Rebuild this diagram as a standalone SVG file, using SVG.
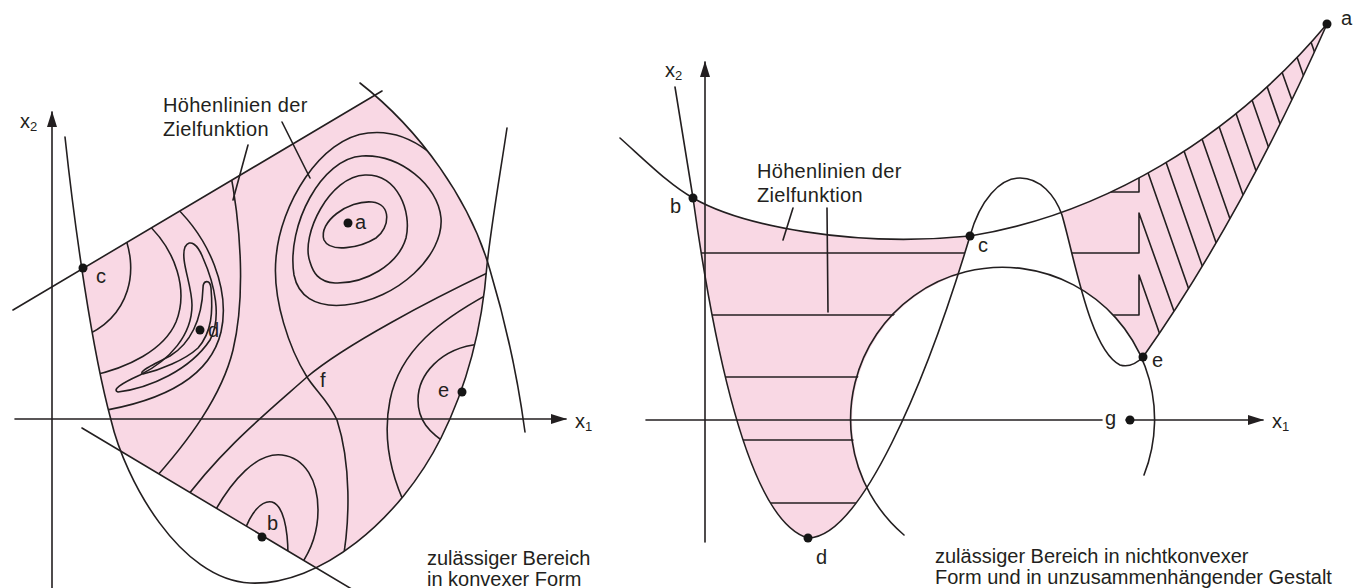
<svg xmlns="http://www.w3.org/2000/svg" width="1357" height="588" viewBox="0 0 1357 588">
<style>
.ln{fill:none;stroke:#231f20;stroke-width:1.6;stroke-linecap:round;stroke-linejoin:round}
.pk{fill:#f9d8e4}
.dot{fill:#151515}
text{font-family:"Liberation Sans",Arial,sans-serif;font-size:20px;fill:#231f20}
.sub{font-size:13px}
.lbl{letter-spacing:0.3px}
</style>
<defs>
<marker id="ah" markerUnits="userSpaceOnUse" markerWidth="16" markerHeight="10" refX="15" refY="5" orient="auto"><path d="M0,0 L16,5 L0,10 Z" fill="#231f20"/></marker>
<clipPath id="cBandL"><path d="M0,317.7 L600,-38.4 L600,737.2 L0,379 Z"/></clipPath>
<clipPath id="cArcL"><path d="M360,83 C420,130 470,200 490,270 C505,320 518,380 525,432 L540,600 L0,600 L0,0 L330,0 Z"/></clipPath>
<clipPath id="cUL"><path d="M65,137 C75,230 92,350 111,420 C125,480 180,580 250,583 C320,586 400,520 441,438 C465,390 482,330 487,265 C492,220 500,175 507,128 L512,0 L60,0 Z"/></clipPath>
<clipPath id="cBelowA"><path d="M600,120 L620,138 C650,165 670,185 693,198 C740,225 850,248 970,236 C1100,215 1230,140 1327,24 L1357,-10 L1357,588 L600,588 Z"/></clipPath>
<clipPath id="cOutC"><path clip-rule="evenodd" d="M0,0 H1357 V588 H0 Z M1156,420 A152,152 0 1 0 852,420 A152,152 0 1 0 1156,420 Z"/></clipPath>
<clipPath id="cInW"><path d="M675,87 L693,198 C710,320 745,520 808,538 C860,538 925,386 970,236 C980,200 1000,178 1020,178 L1020,0 L675,0 Z"/></clipPath>
<clipPath id="cRR"><path d="M1020,178 C1040,178 1055,195 1062,215 C1075,260 1090,350 1120,365 C1130,368 1138,362 1143,357 Q1240,220 1327,24 L1327,0 L1020,0 Z"/></clipPath>
</defs>

<g id="left-diagram">
  <g id="left-region" clip-path="url(#cBandL)">
    <g clip-path="url(#cArcL)">
      <g clip-path="url(#cUL)">
        <rect class="pk" x="0" y="0" width="600" height="600"/>
        <g id="left-contours" class="ln">
          <path d="M122,230 C140,268 132,318 80,338"/>
          <path d="M143,220 C178,250 188,292 176,322 C164,350 128,368 90,376"/>
          <path d="M168,200 C212,238 230,292 221,332 C210,378 160,402 95,412"/>
          <path d="M185,247 C190,238 198,245 203,258 C215,285 222,318 210,340 C190,370 150,388 118,392 C112,390 120,384 140,375 C170,360 192,335 192,305 C192,285 180,260 185,247 Z"/>
          <path d="M203,288 C203,280 210,279 211,288 C213,312 212,332 198,348 C185,360 160,370 143,374 C138,372 150,366 170,356 C190,344 202,320 203,288 Z"/>
          <path d="M229,165 C242,230 245,300 233,350 C222,395 190,440 148,486"/>
          <path d="M498,268 C430,300 345,345 307,377 C270,410 220,450 180,506"/>
          <path d="M340,575 C352,520 350,460 337,420 C328,400 315,390 307,377 C290,350 272,300 276,258 C280,205 320,138 368,133 C410,128 450,160 472,210"/>
          <path d="M324,240 C318,222 348,200 372,202 C392,204 390,228 376,238 C360,248 330,253 324,240 Z"/>
          <path d="M310,262 C300,235 330,176 365,175 C398,174 412,212 406,238 C398,265 365,284 335,283 C318,282 313,272 310,262 Z"/>
          <path d="M294,275 C286,225 322,158 362,156 C400,154 438,185 441,218 C444,255 398,300 345,305 C314,308 298,295 294,275 Z"/>
          <path d="M492,292 C440,320 400,350 390,400 C382,440 392,480 410,515"/>
          <path d="M480,344 C440,348 418,375 418,400 C418,420 428,432 450,446"/>
          <path d="M243,536 C250,512 262,500 272,502 C283,505 288,528 288,556"/>
          <path d="M210,520 C232,478 258,452 282,455 C305,458 318,480 318,510 C318,535 310,552 300,566"/>
        </g>
      </g>
    </g>
  </g>
  <g id="left-constraints" class="ln">
    <path d="M13,310 L382,91"/>
    <path d="M82,428 L360,594"/>
    <path d="M360,83 C420,130 470,200 490,270 C505,320 518,380 525,432"/>
    <path d="M65,137 C75,230 92,350 111,420 C125,480 180,580 250,583 C320,586 400,520 441,438 C465,390 482,330 487,265 C492,220 500,175 507,128"/>
  </g>
  <g id="left-axes" class="ln">
    <path d="M15,419 L566,419" marker-end="url(#ah)"/>
    <path d="M52,588 L52,112" marker-end="url(#ah)"/>
  </g>
  <text x="575" y="428">x<tspan class="sub" dy="3">1</tspan></text>
  <text x="20" y="128">x<tspan class="sub" dy="3">2</tspan></text>
  <g id="L-a"><circle class="dot" cx="348" cy="223" r="4.5"/><text x="355" y="229">a</text></g>
  <g id="L-b"><circle class="dot" cx="262" cy="537" r="4.5"/><text x="267" y="530">b</text></g>
  <g id="L-c"><circle class="dot" cx="83" cy="268" r="4.5"/><text x="96" y="283">c</text></g>
  <g id="L-d"><circle class="dot" cx="200" cy="330" r="4.5"/><text x="208" y="337">d</text></g>
  <g id="L-e"><circle class="dot" cx="462" cy="392" r="4.5"/><text x="438" y="397">e</text></g>
  <g id="L-f"><text x="320" y="387">f</text></g>
  <g id="L-label"><text class="lbl" x="163" y="112">Höhenlinien der</text><text class="lbl" x="163" y="136">Zielfunktion</text></g>
  <g id="L-caption"><text x="427" y="565">zulässiger Bereich</text><text x="427" y="586">in konvexer Form</text></g>
</g>

<g id="right-diagram">
  <g id="right-region-1" clip-path="url(#cBelowA)">
    <g clip-path="url(#cOutC)">
      <g clip-path="url(#cInW)">
        <rect class="pk" x="600" y="0" width="500" height="588"/>
        <g class="ln">
          <path d="M680,253 H1000"/>
          <path d="M680,315 H1000"/>
          <path d="M680,377 H1000"/>
          <path d="M680,440 H1000"/>
          <path d="M680,503 H1000"/>
        </g>
      </g>
      <g clip-path="url(#cRR)">
        <rect class="pk" x="1000" y="0" width="357" height="588"/>
        <g class="ln">
          <path d="M1100,192 L1139,192 L1139,168"/>
          <path d="M1050,253 L1139,253 L1139,213 L1180,328"/>
          <path d="M1090,315 L1139,315 L1139,275 L1165,349"/>
          <path d="M1142.8,157.8 L1193.8,303.5"/>
          <path d="M1160.8,147.3 L1207.5,281.1"/>
          <path d="M1178.8,136.1 L1221.4,257.9"/>
          <path d="M1196.8,124 L1235.2,233.7"/>
          <path d="M1213.8,111.5 L1248.3,210.1"/>
          <path d="M1230.8,98.4 L1261.3,186"/>
          <path d="M1246.8,85.1 L1273.7,161.9"/>
          <path d="M1261.8,71.6 L1285.3,138.8"/>
          <path d="M1276.8,57.4 L1297.3,115"/>
          <path d="M1291.8,42.2 L1308.7,90.5"/>
          <path d="M1305.8,27.2 L1319.7,66.8"/>
        </g>
      </g>
    </g>
  </g>
  <g id="right-constraints" class="ln">
    <path d="M620,138 C650,165 670,185 693,198 C740,225 850,248 970,236 C1100,215 1230,140 1327,24"/>
    <path d="M675,87 L693,198 C710,320 745,520 808,538 C860,538 925,386 970,236 C980,200 1000,178 1020,178 C1040,178 1055,195 1062,215 C1075,260 1090,350 1120,365 C1130,368 1138,362 1143,357"/>
    <path d="M904,535 A152,152 0 1 1 1144,475"/>
    <path d="M1327,24 Q1240,220 1143,357"/>
  </g>
  <g id="right-axes" class="ln">
    <path d="M646,420 L1102,420"/>
    <path d="M1126,420 L1263,420" marker-end="url(#ah)"/>
    <path d="M705,542 L705,62" marker-end="url(#ah)"/>
  </g>
  <text x="1272" y="428">x<tspan class="sub" dy="3">1</tspan></text>
  <text x="665" y="77">x<tspan class="sub" dy="3">2</tspan></text>
  <g id="R-a"><circle class="dot" cx="1327" cy="24" r="4.5"/><text x="1341" y="25">a</text></g>
  <g id="R-b"><circle class="dot" cx="693" cy="198" r="4.5"/><text x="670" y="213">b</text></g>
  <g id="R-c"><circle class="dot" cx="970" cy="236" r="4.5"/><text x="978" y="252">c</text></g>
  <g id="R-d"><circle class="dot" cx="808" cy="538" r="4.5"/><text x="816" y="564">d</text></g>
  <g id="R-e"><circle class="dot" cx="1143" cy="357" r="4.5"/><text x="1152" y="367">e</text></g>
  <g id="R-g"><circle class="dot" cx="1130" cy="420" r="4.5"/><text x="1105" y="425">g</text></g>
  <g id="R-label"><text class="lbl" x="757" y="178">Höhenlinien der</text><text class="lbl" x="757" y="202">Zielfunktion</text></g>
  <g id="R-caption"><text x="935" y="563">zulässiger Bereich in nichtkonvexer</text><text x="935" y="584">Form und in unzusammenhängender Gestalt</text></g>
</g>

<g id="connectors" class="ln">
  <path d="M282,122 L310,178"/>
  <path d="M248,145 L233,200"/>
  <path d="M793,208 L783,240"/>
  <path d="M827,208 L828,312"/>
</g>
</svg>
